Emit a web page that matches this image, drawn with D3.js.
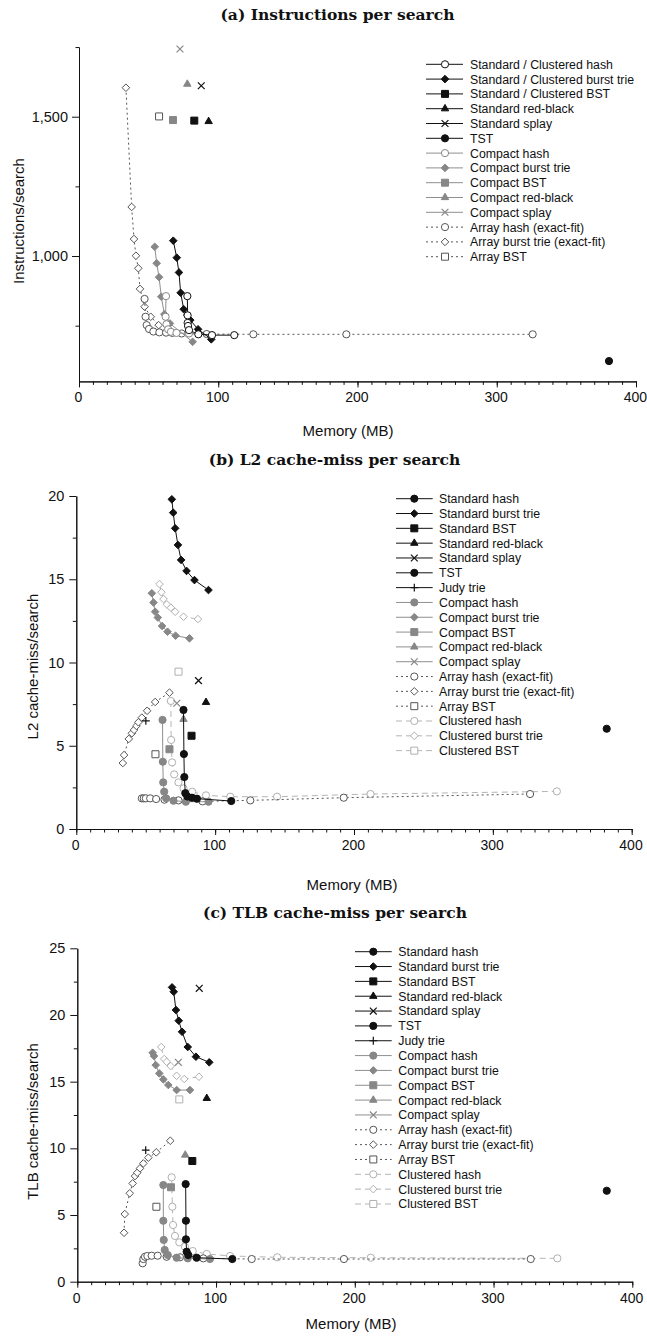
<!DOCTYPE html>
<html>
<head>
<meta charset="utf-8">
<script src="https://cdn.jsdelivr.net/npm/d3@7"></script>
<style>
  html, body { margin: 0; padding: 0; background: #fff; }
  svg { display: block; }
  text { font-family: "Liberation Sans", Arial, Helvetica, sans-serif; fill: #111; }
  .title { font-family: "DejaVu Serif", serif; font-weight: bold; font-size: 15.5px; }
  .axis-title { font-size: 15px; }
  .legend text { font-size: 12.3px; }
</style>
</head>
<body>
<svg id="fig" width="647" height="1336"></svg>
<script>
// ---------------- data: [memory (MB), value] per structure ----------------

// (a) instructions per search
const a_stdHash  = [[77.8,856],[78,787],[78,760],[78.3,749],[79,734],[85.7,719],[95.5,716],[111.5,716]];
const a_stdBurst = [[67.7,1055],[70.2,994],[71.8,941],[73,868],[75.2,809],[77.8,788],[79.9,770],[85.5,737],[95,701]];
const a_stdBst   = [[82.8,1486]];
const a_stdRb    = [[93.1,1483]];
const a_stdSplay = [[87.8,1611]];
const a_tst      = [[380.6,623]];
const a_cmpHash  = [[62.5,856],[62.2,782],[62.8,755],[64,737],[66,728],[70,724],[79,722],[95.5,716]];
const a_cmpBurst = [[54.4,1033],[55.8,974],[57.5,924],[59.1,854],[61.3,791],[65.3,758],[81.6,692]];
const a_cmpBst   = [[67.5,1488]];
const a_cmpRb    = [[77.8,1617]];
const a_cmpSplay = [[72.5,1743]];
const a_arrHash  = [[47.1,846],[47.8,782],[48.6,752],[50.3,738],[53.4,729],[57.7,726],[62.5,725],[67,724],[73.7,722],[91.7,720],[125.2,719],[192,719],[325.8,719]];
const a_arrBurst = [[33.7,1604],[37.8,1176],[39.5,1061],[40.9,1001],[42.6,956],[43.8,882],[47.1,818],[51.5,782],[57.2,752]];
const a_arrBst   = [[57.5,1501]];

// (b) L2 cache-misses per search
const b_stdHash  = [[77.2,7.15],[77.5,4.5],[77.8,3.12],[78.5,2.15],[80,1.95],[83.3,1.88],[86.9,1.82],[111.6,1.68]];
const b_stdBurst = [[68.8,19.8],[69.8,19.0],[71.2,18.06],[73.2,17.06],[75.5,16.16],[79.4,15.5],[85.1,14.95],[95.2,14.35]];
const b_stdBst   = [[83,5.6]];
const b_stdRb    = [[93.4,7.61]];
const b_stdSplay = [[88,8.91]];
const b_tst      = [[382,6.02]];
const b_judy     = [[50.1,6.49]];
const b_cmpHash  = [[62.1,6.55],[62.3,4.04],[62.6,2.8],[63.3,2.24],[64.7,1.84],[70,1.7],[78.9,1.64],[95.2,1.64]];
const b_cmpBurst = [[54.4,14.16],[55.6,13.6],[56.8,13.05],[58.7,12.7],[61.8,12.19],[65.7,11.85],[71.5,11.61],[81.5,11.45]];
const b_cmpBst   = [[67.1,4.79]];
const b_cmpRb    = [[77.2,6.59]];
const b_cmpSplay = [[72.4,7.55]];
const b_arrHash  = [[47.2,1.84],[48.6,1.84],[50.1,1.84],[53.2,1.84],[57.5,1.8],[63.5,1.76],[73.6,1.72],[90.9,1.66],[125.3,1.72],[192.6,1.88],[326.8,2.1]];
const b_arrBurst = [[33.5,3.96],[34.4,4.44],[37.8,5.41],[40,5.75],[41.6,5.95],[43.3,6.19],[44.7,6.41],[47.2,6.69],[51,7.1],[56.8,7.63],[67.1,8.19]];
const b_arrBst   = [[57,4.49]];
const b_cluHash  = [[68.1,7.69],[68.3,5.35],[69,4.0],[70.5,3.28],[73.6,2.8],[77.2,2.44],[83.5,2.24],[93.4,2.02],[110.9,1.94],[144.6,1.94],[211.9,2.1],[346.1,2.26]];
const b_cluBurst = [[59.9,14.71],[61.3,14.22],[62.8,13.81],[65.2,13.49],[68.1,13.29],[71.2,13.05],[77.2,12.75],[87.6,12.61]];
const b_cluBst   = [[73.6,9.45]];

// (c) TLB cache-misses per search
const c_stdHash  = [[78.1,7.32],[78.3,4.57],[78.3,3.18],[78.8,2.25],[80,2.0],[86,1.8],[111.7,1.7]];
const c_stdBurst = [[68.3,22.07],[69.5,21.74],[71.1,20.37],[73.1,19.57],[75.5,18.74],[79.6,17.6],[85.5,16.87],[95.1,16.45]];
const c_stdBst   = [[82.9,9.05]];
const c_stdRb    = [[93.3,13.75]];
const c_stdSplay = [[87.9,22.0]];
const c_tst      = [[381.6,6.82]];
const c_judy     = [[49.3,9.87]];
const c_cmpHash  = [[62,7.25],[62,4.57],[62.3,3.13],[63,2.38],[65.2,2.0],[71.6,1.8],[79.6,1.75],[95.6,1.7]];
const c_cmpBurst = [[54.3,17.17],[55.3,16.92],[56.5,16.24],[59.1,15.62],[62,15.17],[65.6,14.75],[71.6,14.37],[81.2,14.37]];
const c_cmpBst   = [[67.5,7.08]];
const c_cmpRb    = [[77.8,9.5]];
const c_cmpSplay = [[72.8,16.45]];
const c_arrHash  = [[47.1,1.38],[47.6,1.7],[48.8,1.87],[50.5,1.93],[53.6,1.95],[57.9,1.95],[64.4,1.87],[74,1.83],[90.8,1.75],[125.7,1.7],[192.2,1.7],[326.8,1.7]];
const c_arrBurst = [[33.7,3.67],[34.2,5.07],[37.8,6.63],[39.9,7.37],[41.6,7.92],[43.2,8.17],[45.2,8.5],[47.6,8.87],[51.2,9.3],[56.9,9.7],[67,10.57]];
const c_arrBst   = [[57,5.62]];
const c_cluHash  = [[68,7.83],[68.5,5.62],[69,4.25],[70.4,3.43],[73.5,2.95],[77.6,2.62],[83.2,2.3],[93.3,2.08],[110.1,1.93],[144.1,1.83],[211.5,1.8],[346,1.75]];
const c_cluBurst = [[60.5,17.6],[62.7,16.7],[64.4,16.49],[67.3,16.17],[71.6,15.44],[77.1,15.2],[87.7,15.37]];
const c_cluBst   = [[73.5,13.67]];

// legend labels
const legendA = ["Standard / Clustered hash","Standard / Clustered burst trie","Standard / Clustered BST",
  "Standard red-black","Standard splay","TST","Compact hash","Compact burst trie","Compact BST",
  "Compact red-black","Compact splay","Array hash (exact-fit)","Array burst trie (exact-fit)","Array BST"];
const legendBC = ["Standard hash","Standard burst trie","Standard BST","Standard red-black","Standard splay",
  "TST","Judy trie","Compact hash","Compact burst trie","Compact BST","Compact red-black","Compact splay",
  "Array hash (exact-fit)","Array burst trie (exact-fit)","Array BST","Clustered hash","Clustered burst trie","Clustered BST"];

// tick labels
const xTicks  = [0,100,200,300,400];
const yTicksA = [1000,1500];
const yTicksB = [0,5,10,15,20];
const yTicksC = [0,5,10,15,20,25];

// ---------------- styles ----------------
const STYLE = {
  std:  {line:"#111", dash:null,  stroke:"#111",    fill:"#111"},
  stdO: {line:"#111", dash:null,  stroke:"#111",    fill:"#fff"},
  cmp:  {line:"#8f8f8f", dash:null, stroke:"#878787", fill:"#878787"},
  cmpO: {line:"#8f8f8f", dash:null, stroke:"#878787", fill:"#fff"},
  arr:  {line:"#555", dash:"2,3", stroke:"#555",    fill:"#fff"},
  clu:  {line:"#b5b5b5", dash:"6,4", stroke:"#b0b0b0", fill:"#fff"}
};

function shapePath(shape) {
  const r = 3.6, d = 3.8, h = 3.5, c = 3.4, a = 7.4, th = a * 0.866;
  switch (shape) {
    case "circle":   return `M${r},0A${r},${r} 0 1,1 ${-r},0A${r},${r} 0 1,1 ${r},0Z`;
    case "diamond":  return `M0,${-d}L${d},0L0,${d}L${-d},0Z`;
    case "square":   return `M${-h},${-h}H${h}V${h}H${-h}Z`;
    case "triangle": return `M0,${-2*th/3}L${a/2},${th/3}L${-a/2},${th/3}Z`;
    case "cross":    return `M${-c},${-c}L${c},${c}M${c},${-c}L${-c},${c}`;
    case "plus":     return `M${-c-0.5},0H${c+0.5}M0,${-c-0.5}V${c+0.5}`;
  }
}
const isStrokeOnly = s => s === "cross" || s === "plus";

function drawMarker(g, shape, st, x, y) {
  g.append("path")
    .attr("d", shapePath(shape))
    .attr("transform", `translate(${x},${y})`)
    .attr("fill", isStrokeOnly(shape) ? "none" : st.fill)
    .attr("stroke", st.stroke)
    .attr("stroke-width", isStrokeOnly(shape) ? 1.2 : 1);
}

// ---------------- panels ----------------
const seriesA = [
  ["stdO","circle",a_stdHash],["std","diamond",a_stdBurst],["std","square",a_stdBst],
  ["std","triangle",a_stdRb],["std","cross",a_stdSplay],["std","circle",a_tst],
  ["cmpO","circle",a_cmpHash],["cmp","diamond",a_cmpBurst],["cmp","square",a_cmpBst],
  ["cmp","triangle",a_cmpRb],["cmp","cross",a_cmpSplay],
  ["arr","circle",a_arrHash],["arr","diamond",a_arrBurst],["arr","square",a_arrBst]
].map((s, i) => ({label: legendA[i], style: s[0], shape: s[1], data: s[2]}));

function seriesBC(p) {
  return [
    ["std","circle",p.stdHash],["std","diamond",p.stdBurst],["std","square",p.stdBst],
    ["std","triangle",p.stdRb],["std","cross",p.stdSplay],["std","circle",p.tst],["std","plus",p.judy],
    ["cmp","circle",p.cmpHash],["cmp","diamond",p.cmpBurst],["cmp","square",p.cmpBst],
    ["cmp","triangle",p.cmpRb],["cmp","cross",p.cmpSplay],
    ["arr","circle",p.arrHash],["arr","diamond",p.arrBurst],["arr","square",p.arrBst],
    ["clu","circle",p.cluHash],["clu","diamond",p.cluBurst],["clu","square",p.cluBst]
  ].map((s, i) => ({label: legendBC[i], style: s[0], shape: s[1], data: s[2]}));
}

const panels = [
  {
    title: "(a) Instructions per search", titleX: 337.5, titleY: 19.5,
    xr: [79, 636], yDom: [550, 1750], yr: [381.4, 47.05],
    yTicks: yTicksA, yMinor: [750, 1250, 1750], yFmt: d3.format(","), yPad: 4,
    yLabel: "Instructions/search", yLabelX: 18.5, yLabelY: 221,
    xLabelX: 348, xLabelY: 435.5,
    legend: {x0: 426, x1: 463, xm: 445, xt: 470, y0: 64.3, dy: 14.8},
    series: seriesA
  },
  {
    title: "(b) L2 cache-miss per search", titleX: 334.5, titleY: 465,
    xr: [76.3, 631.7], yDom: [0, 20], yr: [829, 496],
    yTicks: yTicksB, yMinor: d3.range(2.5, 20, 5), yFmt: d3.format("d"), yPad: 5,
    yLabel: "L2 cache-miss/search", yLabelX: 32.5, yLabelY: 666.5,
    xLabelX: 352, xLabelY: 889.5,
    legend: {x0: 396, x1: 432.7, xm: 414.3, xt: 439, y0: 498.7, dy: 14.82},
    series: seriesBC({stdHash:b_stdHash, stdBurst:b_stdBurst, stdBst:b_stdBst, stdRb:b_stdRb, stdSplay:b_stdSplay,
      tst:b_tst, judy:b_judy, cmpHash:b_cmpHash, cmpBurst:b_cmpBurst, cmpBst:b_cmpBst, cmpRb:b_cmpRb,
      cmpSplay:b_cmpSplay, arrHash:b_arrHash, arrBurst:b_arrBurst, arrBst:b_arrBst,
      cluHash:b_cluHash, cluBurst:b_cluBurst, cluBst:b_cluBst})
  },
  {
    title: "(c) TLB cache-miss per search", titleX: 335, titleY: 918.3,
    xr: [77.3, 632.3], yDom: [0, 25], yr: [1281.7, 948.3],
    yTicks: yTicksC, yMinor: d3.range(2.5, 25, 5), yFmt: d3.format("d"), yPad: 5,
    yLabel: "TLB cache-miss/search", yLabelX: 33, yLabelY: 1121.5,
    xLabelX: 351, xLabelY: 1328.5,
    legend: {x0: 355, x1: 391.7, xm: 373.3, xt: 398.3, y0: 951.7, dy: 14.84},
    series: seriesBC({stdHash:c_stdHash, stdBurst:c_stdBurst, stdBst:c_stdBst, stdRb:c_stdRb, stdSplay:c_stdSplay,
      tst:c_tst, judy:c_judy, cmpHash:c_cmpHash, cmpBurst:c_cmpBurst, cmpBst:c_cmpBst, cmpRb:c_cmpRb,
      cmpSplay:c_cmpSplay, arrHash:c_arrHash, arrBurst:c_arrBurst, arrBst:c_arrBst,
      cluHash:c_cluHash, cluBurst:c_cluBurst, cluBst:c_cluBst})
  }
];

const svg = d3.select("#fig");
svg.append("rect").attr("width", 647).attr("height", 1336).attr("fill", "#fff");

function styleAxis(g) {
  g.attr("font-size", null).attr("font-family", null);
  g.selectAll("text").style("font-size", "14px");
  g.selectAll("path, line").attr("stroke", "#111").attr("stroke-width", 1);
}

panels.forEach(p => {
  const x = d3.scaleLinear().domain([0, 400]).range(p.xr);
  const y = d3.scaleLinear().domain(p.yDom).range(p.yr);
  const g = svg.append("g");

  // title
  g.append("text").attr("class", "title")
    .attr("x", p.titleX).attr("y", p.titleY).attr("text-anchor", "middle")
    .text(p.title);

  // x axis: minor ticks every 10 MB, labelled ticks every 100 MB
  g.append("g").attr("transform", `translate(0,${p.yr[0]})`)
    .call(d3.axisBottom(x).tickValues(d3.range(0, 401, 10)).tickSize(3.5).tickFormat("").tickSizeOuter(0))
    .call(styleAxis);
  g.append("g").attr("transform", `translate(0,${p.yr[0]})`)
    .call(d3.axisBottom(x).tickValues(xTicks).tickSize(6).tickPadding(5).tickFormat(d3.format("d")).tickSizeOuter(0))
    .call(styleAxis)
    .call(ax => ax.selectAll(".tick text").attr("dx", "-1.2"));

  // y axis
  g.append("g").attr("transform", `translate(${p.xr[0]},0)`)
    .call(d3.axisLeft(y).tickValues(p.yMinor).tickSize(3.5).tickFormat("").tickSizeOuter(0))
    .call(styleAxis);
  g.append("g").attr("transform", `translate(${p.xr[0]},0)`)
    .call(d3.axisLeft(y).tickValues(p.yTicks).tickSize(7).tickPadding(p.yPad).tickFormat(p.yFmt).tickSizeOuter(0))
    .call(styleAxis)
    .call(ax => ax.selectAll(".tick text").style("font-size", "14.5px"));

  // axis titles
  g.append("text").attr("class", "axis-title")
    .attr("transform", `translate(${p.yLabelX},${p.yLabelY}) rotate(-90)`)
    .attr("text-anchor", "middle").attr("dy", "0.35em")
    .text(p.yLabel);
  g.append("text").attr("class", "axis-title")
    .attr("x", p.xLabelX).attr("y", p.xLabelY).attr("text-anchor", "middle")
    .text("Memory (MB)");

  // series: drawn last-to-first so the standard structures sit on top
  const line = d3.line().x(d => x(d[0])).y(d => y(d[1]));
  const plot = g.append("g");
  p.series.slice().reverse().forEach(s => {
    const st = STYLE[s.style];
    const sg = plot.append("g");
    if (s.data.length > 1) {
      sg.append("path").attr("d", line(s.data))
        .attr("fill", "none").attr("stroke", st.line).attr("stroke-width", 1)
        .attr("stroke-dasharray", st.dash);
    }
    s.data.forEach(d => drawMarker(sg, s.shape, st, x(d[0]), y(d[1])));
  });

  // legend
  const L = p.legend;
  const lg = g.append("g").attr("class", "legend");
  p.series.forEach((s, i) => {
    const st = STYLE[s.style];
    const yy = L.y0 + i * L.dy;
    lg.append("line").attr("x1", L.x0).attr("x2", L.x1).attr("y1", yy).attr("y2", yy)
      .attr("stroke", st.line).attr("stroke-width", 1).attr("stroke-dasharray", st.dash);
    drawMarker(lg, s.shape, st, L.xm, yy);
    lg.append("text").attr("x", L.xt).attr("y", yy).attr("dy", "0.36em").text(s.label);
  });
});
</script>
</body>
</html>
